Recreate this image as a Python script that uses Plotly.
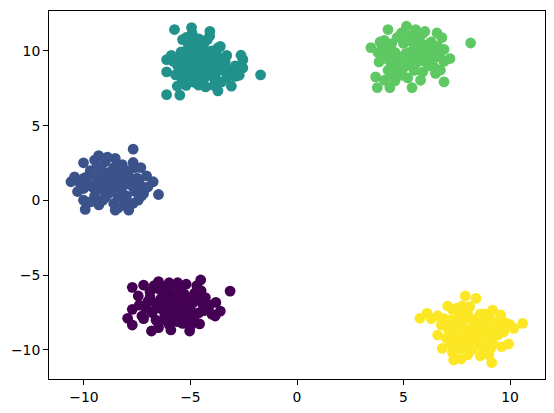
import plotly.graph_objects as go

# Cluster 0 (purple)
c0_x = [-7.73, -7.73, -7.95, -7.73, -6.83, -5.92, -5.04, -4.57, -3.84, -3.81, -3.14, -4.52, -4.5,
        -6.5, -5.87, -7.2, -7.45, -7.28, -6.62, -6.2, -5.37, -5.29, -4.87, -4.37, -7.0,
        -5.7, -6.3, -6.0, -6.6, -6.9, -6.2, -5.5, -5.1, -4.8, -4.3, -4.1, -4.6, -5.0, -5.4,
        -5.8, -6.3, -6.8, -7.1, -5.6, -6.0, -5.2, -4.9, -6.5, -7.4, -4.0, -5.9, -5.2, -6.7, -4.7,
        -6.4, -6.1, -5.8, -5.5, -5.3, -5.0, -4.6, -4.4, -4.8, -5.5, -5.9, -6.6, -6.9, -6.5,
        -5.6, -6.0, -7.2, -6.2, -5.0, -3.6]
c0_y = [-5.81, -7.28, -7.88, -8.33, -8.73, -8.66, -8.73, -8.26, -7.73, -6.82, -6.06, -5.32, -6.04,
        -5.43, -5.66, -5.66, -6.39, -7.73, -8.0, -7.66, -8.22, -6.26, -6.82, -7.37, -6.77,
        -6.88, -6.2, -6.6, -6.9, -6.1, -5.8, -6.0, -6.5, -6.2, -6.5, -7.0, -7.5, -7.3, -7.5,
        -7.7, -7.3, -7.5, -7.2, -8.1, -8.3, -7.9, -8.1, -8.5, -7.0, -7.6, -6.3, -5.6, -5.7, -5.7,
        -6.6, -7.0, -6.5, -6.6, -7.0, -6.9, -6.6, -7.0, -7.7, -7.2, -7.2, -7.2, -6.5, -5.9,
        -5.5, -5.5, -7.9, -8.0, -8.4, -7.4]

# Cluster 1 (blue)
c1_x = [-10.61, -10.44, -10.02, -9.31, -8.53, -7.69, -7.69, -7.33, -7.06, -6.75, -6.5, -7.2, -7.45,
        -7.9, -8.53, -9.11, -9.94, -10.02, -10.02, -9.61, -9.03, -9.86, -9.2, -8.45, -8.11,
        -8.7, -9.4, -9.0, -8.8, -8.3, -8.0, -7.8, -7.6, -8.4, -8.9, -9.5, -10.2, -9.7, -9.0,
        -8.2, -7.9, -7.5, -7.3, -8.6, -8.1, -7.7, -9.3, -9.7, -10.3, -8.0, -7.0, -8.9, -9.5, -8.5, -9.2,
        -9.1, -8.9, -8.6, -8.3, -8.0, -7.8, -8.2, -8.6, -9.3, -9.0, -8.7, -8.2, -7.7, -7.4,
        -9.8, -10.0, -9.4, -7.6, -8.4, -7.3]
c1_y = [1.25, 1.58, 2.52, 3.0, 2.81, 3.43, 2.54, 2.2, 1.65, 1.25, 0.4, 0.47, 0.02,
        -0.65, -0.65, 0.02, -0.6, 0.02, 0.8, 0.91, 0.58, 1.58, 2.25, 2.03, 1.36,
        1.25, 1.5, 1.0, 1.9, 0.8, 1.7, 1.1, 0.6, 0.2, 0.4, 0.3, 1.2, 2.0, 2.6,
        2.4, 2.0, 1.5, 0.9, -0.2, -0.3, -0.2, -0.3, -0.1, 0.6, 0.3, 0.9, 2.9, 2.7, 1.5, 1.3,
        1.7, 1.4, 1.0, 1.3, 1.1, 1.5, 1.8, 2.2, 0.8, 0.2, 0.6, 0.5, 0.9, 1.2,
        1.1, 1.5, 2.2, 2.2, -0.5, 0.3]

# Cluster 2 (teal)
c2_x = [-5.75, -4.95, -4.09, -4.92, -6.12, -6.12, -6.12, -5.5, -5.62, -5.44, -5.37, -1.71, -2.63,
        -2.54, -2.54, -2.71, -3.08, -3.71, -3.54, -4.62, -4.29, -3.71, -3.79, -3.37, -3.2, -3.0,
        -4.21, -4.37, -4.7, -5.04,
        -5.8, -5.6, -5.3, -5.2, -5.0, -4.9, -4.8, -4.6, -4.5, -4.4, -4.3, -4.2, -4.1, -4.0, -3.9,
        -3.8, -3.6, -3.5, -5.1, -4.6, -4.8, -5.4, -5.7, -4.5, -3.9, -3.3, -2.9, -4.1, -5.2, -5.0,
        -4.3, -4.7, -3.6,
        -5.5, -5.3, -4.9, -4.6, -4.4, -4.3, -4.7, -5.0, -5.5, -4.0, -3.8, -3.4, -3.9, -4.4,
        -5.2, -4.9, -4.5, -3.3, -2.9, -5.9]
c2_y = [11.43, 11.56, 11.31, 11.16, 9.42, 8.6, 7.08, 7.04, 7.64, 9.93, 10.76, 8.4, 9.71,
        9.42, 8.86, 8.37, 7.64, 7.33, 7.93, 7.71, 7.6, 10.2, 9.93, 9.27, 8.71, 8.6,
        10.76, 10.49, 10.27, 9.71,
        9.3, 9.0, 8.6, 9.2, 8.3, 8.9, 9.5, 8.6, 9.1, 9.8, 8.3, 9.4, 8.8, 10.0, 9.1,
        8.5, 8.9, 9.5, 10.3, 10.8, 7.9, 8.1, 8.4, 7.9, 7.7, 8.2, 9.0, 11.0, 10.9, 9.8,
        10.0, 9.2, 10.3,
        9.6, 9.9, 10.0, 9.9, 9.5, 8.8, 8.3, 8.7, 8.4, 9.5, 9.4, 8.7, 8.2, 8.0,
        7.7, 10.6, 10.4, 9.7, 8.3, 9.7]

# Cluster 3 (green)
c3_x = [3.47, 4.27, 5.14, 5.57, 5.9, 6.57, 6.8, 8.15, 7.18, 6.73, 6.9, 5.8, 5.4, 4.36, 3.77,
        3.69, 3.85, 4.27, 4.1, 4.69, 4.94, 6.43, 6.23, 5.85, 4.44, 4.1,
        5.1, 5.44, 5.27, 4.6, 4.8, 5.0, 5.3, 5.6, 5.9, 6.1, 6.4, 6.2, 5.5, 5.0, 4.5, 4.2, 4.7,
        5.7, 6.0, 6.6, 6.9, 6.5, 5.2, 4.4, 4.0, 5.7, 4.9, 6.9, 4.0, 3.9,
        4.3, 4.6, 4.9, 5.3, 5.6, 5.8, 6.2, 6.5, 6.0, 5.4, 5.1, 4.8, 5.5, 5.2, 4.4, 6.3, 6.7,
        5.9, 4.6, 3.8]
c3_y = [10.22, 11.43, 11.65, 11.43, 11.16, 11.2, 10.89, 10.53, 9.49, 8.71, 7.93, 8.04, 7.55, 7.55, 7.55,
        8.26, 9.27, 8.71, 8.04, 8.6, 8.37, 8.93, 10.49, 10.49, 10.49, 10.71,
        9.82, 10.04, 9.6, 9.9, 9.3, 10.5, 11.0, 9.2, 9.7, 10.0, 9.5, 9.0, 8.7, 8.9, 9.2, 9.8, 10.9,
        10.8, 11.3, 10.3, 10.1, 8.5, 8.2, 8.3, 10.3, 10.3, 11.2, 9.3, 9.5, 10.6,
        9.4, 9.5, 9.6, 9.9, 9.6, 10.1, 9.7, 10.0, 9.3, 9.3, 9.0, 8.7, 10.5, 10.7, 10.1, 10.6, 9.6,
        8.6, 8.0, 9.9]

# Cluster 4 (yellow)
c4_x = [5.77, 6.1, 6.6, 7.07, 7.9, 8.4, 7.74, 9.18, 9.56, 9.76, 10.59, 10.17, 9.43, 9.93, 9.6,
        9.09, 9.01, 9.14, 8.01, 7.35, 7.3, 6.82, 6.6, 6.77, 7.43, 8.1, 8.6,
        7.93, 7.2, 7.6, 8.0, 8.4, 8.8, 9.1, 9.3, 8.9, 8.5, 7.8, 7.1, 7.0, 7.5, 7.9, 8.3, 8.7,
        8.2, 7.6, 8.6, 7.7, 9.0, 8.1, 7.3, 6.9, 8.8, 9.5, 10.0,
        7.4, 7.7, 8.2, 8.5, 8.9, 8.3, 7.9, 8.6, 9.0, 9.2, 8.0, 7.7, 7.3, 7.2, 8.4, 8.0, 9.2,
        9.7, 6.3, 7.5]
c4_y = [-7.88, -7.55, -7.71, -7.06, -6.39, -6.55, -7.06, -7.33, -7.66, -8.17, -8.22, -8.55, -9.0, -9.6, -9.78,
        -9.89, -10.33, -10.85, -10.33, -10.67, -10.18, -9.89, -9.0, -8.33, -8.55, -8.66, -9.11,
        -8.89, -8.0, -7.7, -7.5, -7.9, -7.6, -8.0, -8.5, -8.7, -8.4, -8.2, -8.6, -9.2, -9.3, -9.6, -9.4, -9.8,
        -10.0, -9.9, -10.4, -10.6, -9.3, -7.1, -7.3, -7.9, -8.2, -8.2, -8.3,
        -8.3, -8.6, -8.8, -8.9, -9.0, -8.1, -7.9, -7.6, -7.6, -8.8, -9.2, -9.3, -8.9, -9.6, -9.7, -10.1, -9.6,
        -8.8, -7.9, -7.2]

clusters = [
    (c0_x, c0_y, "#440154"),
    (c1_x, c1_y, "#3b528b"),
    (c2_x, c2_y, "#21918c"),
    (c3_x, c3_y, "#5ec962"),
    (c4_x, c4_y, "#fde725"),
]

fig = go.Figure()
for xs, ys, col in clusters:
    fig.add_trace(go.Scatter(
        x=xs, y=ys, mode="markers",
        marker=dict(size=10.8, color=col, line=dict(width=0), opacity=1),
        showlegend=False, hoverinfo="skip",
    ))

axis_common = dict(
    showgrid=False, zeroline=False,
    showline=True, linecolor="black", linewidth=1.1, mirror=True,
    ticks="outside", ticklen=4.9, tickwidth=1.1, tickcolor="black",
    tickfont=dict(family="DejaVu Sans", size=13.9, color="black"),
)

# page body has an 8px default margin; compensate so the plot area lands where the reference has it
fig.update_layout(
    width=546, height=405,
    margin=dict(l=41, r=9, t=3, b=34, pad=0),
    paper_bgcolor="white", plot_bgcolor="white",
    xaxis=dict(range=[-11.64, 11.64], tickvals=[-10, -5, 0, 5, 10], **axis_common),
    yaxis=dict(range=[-11.94, 12.67], tickvals=[-10, -5, 0, 5, 10], **axis_common),
)

fig.write_html("out.html")
